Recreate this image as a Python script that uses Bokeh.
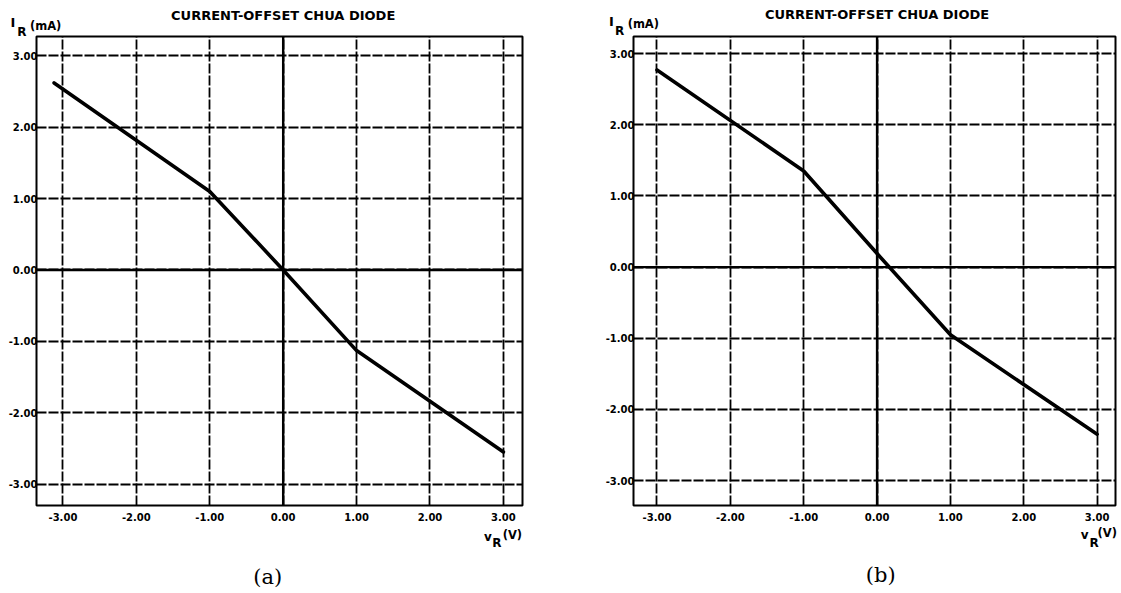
from bokeh.plotting import figure
from bokeh.models import FixedTicker, Label, Span, Range1d
from bokeh.layouts import row
from bokeh.embed import file_html
from bokeh.resources import INLINE

title_text = "CURRENT-OFFSET CHUA DIODE"
tick_values = [-3, -2, -1, 0, 1, 2, 3]
tick_labels = ["-3.00", "-2.00", "-1.00", "0.00", "1.00", "2.00", "3.00"]

# panel (a): v_R (V) vs i_R (mA)
va = [-3.12, -1.0, 0.0, 1.0, 3.0]
ia = [2.62, 1.10, 0.0, -1.13, -2.55]
# panel (b)
vb = [-3.0, -1.0, 0.0, 1.0, 3.0]
ib = [2.77, 1.35, 0.19, -0.95, -2.35]
panel_labels = ["(a)", "(b)"]

SANS = "DejaVu Sans"
H = 590


def lab(p, side, x, y, text, size, align="center", bold=True, font=SANS):
    p.add_layout(Label(x=x, y=y, text=text, text_font=font, text_font_size=size,
                       text_font_style="bold" if bold else "normal",
                       text_align=align, text_baseline="middle", text_color="black",
                       text_line_height=1.0), side)


def panel(v, i, xr, yr, width, mbl, mbr):
    p = figure(width=width, height=H, output_backend="svg", toolbar_location=None,
               x_range=Range1d(*xr), y_range=Range1d(*yr),
               min_border_left=mbl, min_border_right=mbr,
               min_border_top=36, min_border_bottom=H - 505)
    p.background_fill_color = "white"
    p.border_fill_color = "white"
    p.outline_line_color = "black"
    p.outline_line_width = 2
    p.outline_line_alpha = 1.0
    for ax in (p.xaxis, p.yaxis):
        ax.ticker = FixedTicker(ticks=tick_values)
        ax.major_label_overrides = dict(zip(tick_values, tick_labels))
        ax.major_tick_line_color = None
        ax.minor_tick_line_color = None
        ax.major_tick_out = 0
        ax.major_tick_in = 0
        ax.minor_tick_out = 0
        ax.minor_tick_in = 0
        ax.axis_line_color = None
        ax.major_label_text_font = SANS
        ax.major_label_text_font_style = "bold"
        ax.major_label_text_font_size = "10px"
        ax.major_label_text_color = "black"
    p.yaxis.major_label_standoff = -1
    p.xaxis.major_label_standoff = 7
    for g in (p.xgrid, p.ygrid):
        g.grid_line_color = "black"
        g.grid_line_width = 1.8
        g.grid_line_dash = "10 2"
        g.grid_line_alpha = 1.0
    p.add_layout(Span(location=0, dimension="height", line_color="black", line_width=2.4))
    p.add_layout(Span(location=0, dimension="width", line_color="black", line_width=2.4))
    p.line(v, i, line_color="black", line_width=3.6, line_join="round", line_cap="round")
    return p


# ---- panel (a) ----  (frame: x 36..522 px, y 36..505 px)
p1 = panel(va, ia, (-3.36, 3.26), (-3.30, 3.27), 556, 36, 34)
lab(p1, "above", -3.45, 3.42, "(mA)", "11.5px", align="left")
lab(p1, "above", 0.0, 3.56, title_text, "13px")
lab(p1, "right", -3.68, 3.46, "I", "13px")
lab(p1, "right", 2.99, -3.71, "(V)", "11.5px", align="left")
lab(p1, "right", -3.56, 3.34, "R", "12px")
lab(p1, "below", 2.79, -3.735, "v", "12px")
lab(p1, "below", 2.91, -3.83, "R", "12px")
lab(p1, "below", -0.21, -4.30, panel_labels[0], "21px", bold=False, font="DejaVu Serif")

# ---- panel (b) ----  (frame: x 633..1115 px, y 36..505 px)
p2 = panel(vb, ib, (-3.32, 3.25), (-3.35, 3.24), 562, 77, 3)
lab(p2, "left", -3.62, 3.45, "I", "13px")
lab(p2, "left", -3.51, 3.32, "R", "12px")
lab(p2, "above", -3.40, 3.41, "(mA)", "11.5px", align="left")
lab(p2, "above", 0.0, 3.55, title_text, "13px")
lab(p2, "below", 2.83, -3.77, "v", "12px")
lab(p2, "below", 2.96, -3.87, "R", "12px")
lab(p2, "below", 3.005, -3.74, "(V)", "11.5px", align="left")
lab(p2, "below", 0.05, -4.33, panel_labels[1], "21px", bold=False, font="DejaVu Serif")

layout = row(p1, p2)
open("out.html", "w").write(file_html(layout, INLINE))
